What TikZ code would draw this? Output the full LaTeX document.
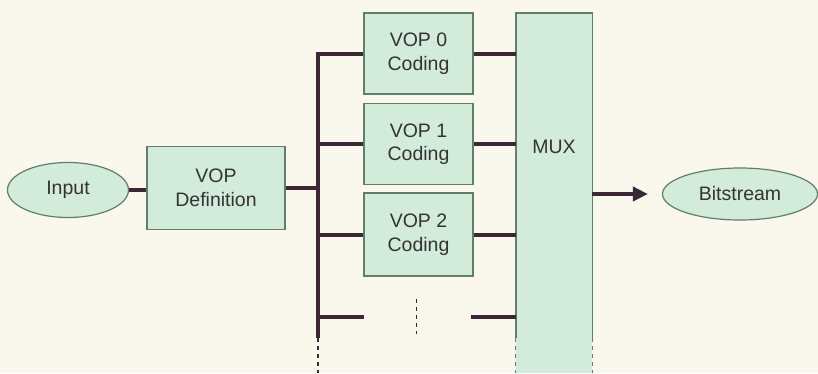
\documentclass[tikz,border=0pt]{standalone}
\usepackage{fontspec}
\setmainfont{Liberation Sans}
\usetikzlibrary{shapes.geometric,arrows.meta}
\definecolor{bg}{HTML}{FAF7EC}
\definecolor{boxfill}{HTML}{D3EBDA}
\definecolor{boxline}{HTML}{5F7F68}
\definecolor{wire}{HTML}{3B2834}
\definecolor{txt}{HTML}{333333}
\begin{document}
\begin{tikzpicture}[x=1pt,y=-1pt,
  every node/.style={font=\fontsize{19.5}{23.5}\selectfont, text=txt, align=center, inner sep=0pt},
  blk/.style={draw=boxline, fill=boxfill, line width=1.4pt, rectangle},
  oval/.style={draw=boxline, fill=boxfill, line width=1.2pt, ellipse},
  wireline/.style={draw=wire, line width=4pt},
  thindash/.style={draw=wire, line width=1.2pt, dash pattern=on 4pt off 4pt}]
\fill[bg] (0,0) rectangle (818,373);
\useasboundingbox (0,0) rectangle (818,373);

% nodes
\node[oval, minimum width=121pt, minimum height=55pt] (input) at (68,190) {Input};
\node[blk, minimum width=138pt, minimum height=83pt] (vopdef) at (216,188) {VOP\\Definition};
\node[blk, minimum width=109pt, minimum height=81pt] (vop0) at (418.5,53.5) {VOP 0\\Coding};
\node[blk, minimum width=109pt, minimum height=81pt] (vop1) at (418.5,144) {VOP 1\\Coding};
\node[blk, minimum width=109pt, minimum height=83pt] (vop2) at (418.5,234.5) {VOP 2\\Coding};
\node[minimum width=76pt, minimum height=325pt] (mux) at (554,175.5) {};
\node[oval, minimum width=155pt, minimum height=52pt] (bits) at (740,194) {Bitstream};

% MUX block (open at the bottom)
\fill[boxfill] (mux.north west) rectangle (mux.east |- 0,373);
\draw[boxline, line width=1.4pt] (mux.south west) -- (mux.north west) -- (mux.north east) -- (mux.south east);
\draw[thindash, draw=boxline] (mux.south west) -- (mux.west |- 0,373);
\draw[thindash, draw=boxline] (mux.south east) -- (mux.east |- 0,373);
\node (muxlabel) at (554,147) {MUX};

% bus
\coordinate (bustop) at (318,53.5);
\coordinate (busbot) at (318,338);
\coordinate (busend) at (318,373);
\draw[wireline] (vop0.west) -- (vop0.west -| bustop) -- (busbot);
\draw[thindash] (busbot) -- (busend);

% connectors
\draw[wireline] (input.east) -- (input.east -| vopdef.west);
\draw[wireline] (vopdef.east) -- (vopdef.east -| bustop);
\draw[wireline] (vop1.west -| bustop) -- (vop1.west);
\draw[wireline] (vop2.west -| bustop) -- (vop2.west);
\draw[wireline] (vop0.east) -- (vop0.east -| mux.west);
\draw[wireline] (vop1.east) -- (vop1.east -| mux.west);
\draw[wireline] (vop2.east) -- (vop2.east -| mux.west);

% lower stubs and ellipsis
\coordinate (stubL) at (364,317);
\coordinate (stubR) at (471,317);
\draw[wireline] (stubL -| bustop) -- (stubL);
\draw[wireline] (stubR) -- (stubR -| mux.west);
\coordinate (dotA) at (416,299);
\coordinate (dotB) at (416,334);
\draw[thindash, line width=1pt] (dotA) -- (dotB);

% output arrow
\draw[wireline, -{Triangle[length=15pt,width=14pt]}, shorten >=14pt] (mux.east |- bits.west) -- (bits.west);
\end{tikzpicture}
\end{document}
